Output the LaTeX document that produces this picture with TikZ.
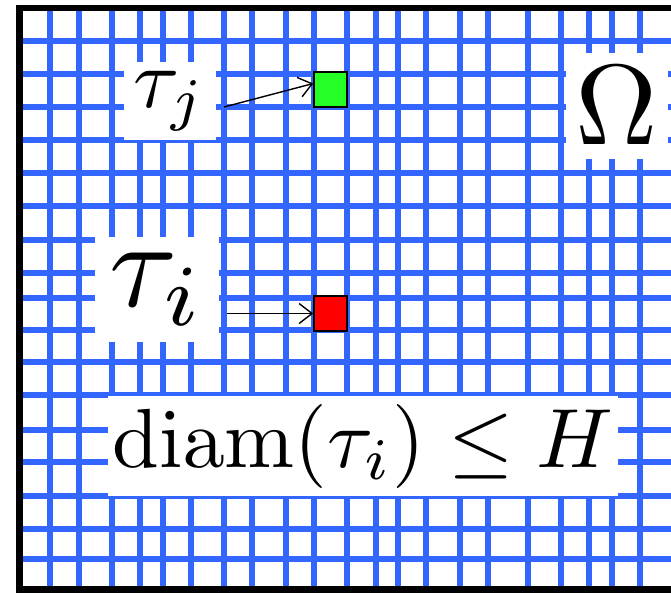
\documentclass[tikz,border=0pt]{standalone}
\usetikzlibrary{arrows.meta}
\definecolor{gridblue}{RGB}{51,102,255}
\definecolor{cellgreen}{RGB}{38,255,38}
\definecolor{cellred}{RGB}{255,0,0}
\begin{document}
\begin{tikzpicture}[x=1pt,y=-1pt,
  gridline/.style={draw=gridblue, line width=6pt},
  labelbox/.style={fill=white, inner sep=0pt},
  cellbox/.style={draw=black, line width=1.5pt, inner sep=0pt, minimum width=33pt, minimum height=35pt},
  pointer/.style={draw=black, line width=1.4pt, -{Straight Barb[length=13pt,width=20pt]}},
  frameline/.style={draw=black, line width=6.5pt}]
\useasboundingbox (0,0) rectangle (671,592);
\clip (0,0) rectangle (671,592);
% grid
\foreach \x in {50,79,112,140,163,191,224,252,286,314,347,376,398,426,460,488,528,561,589,612,640}
  \draw[gridline] (\x,8) -- (\x,592);
\foreach \y in {41,74,107,140,173,206,240,273,298,330,362,395,430,462,496,529,559}
  \draw[gridline] (19,\y) -- (671,\y);
% cells
\node[cellbox, fill=cellgreen] (green) at (330.5,89.5) {};
\node[cellbox, fill=cellred] (red) at (330.5,313.5) {};
% label boxes
\node[labelbox, minimum width=92pt, minimum height=78pt] (tj) at (170,101) {\scalebox{8.4}{$\tau_j$}};
\node[labelbox, minimum width=102pt, minimum height=106pt] (om) at (617,106) {\scalebox{11.4}{$\Omega$}};
\node[labelbox, minimum width=124pt, minimum height=105pt] (ti) at (157,289.5) {\scalebox{12.4}{$\tau_i$}};
\node[labelbox, minimum width=510pt, minimum height=100pt] (dm) at (363,446) {\scalebox{8.4}{$\mathrm{diam}(\tau_i)\leq H$}};
% frame
\draw[frameline] (690,8) -- (19.5,8) -- (19.5,589.5) -- (690,589.5);
% arrows
\coordinate (tjs) at (224,107);
\coordinate (tis) at (227,313.5);
\draw[pointer] (tjs) -- ([yshift=6pt]green.west);
\draw[pointer] (tis) -- (red.west);
\end{tikzpicture}
\end{document}
